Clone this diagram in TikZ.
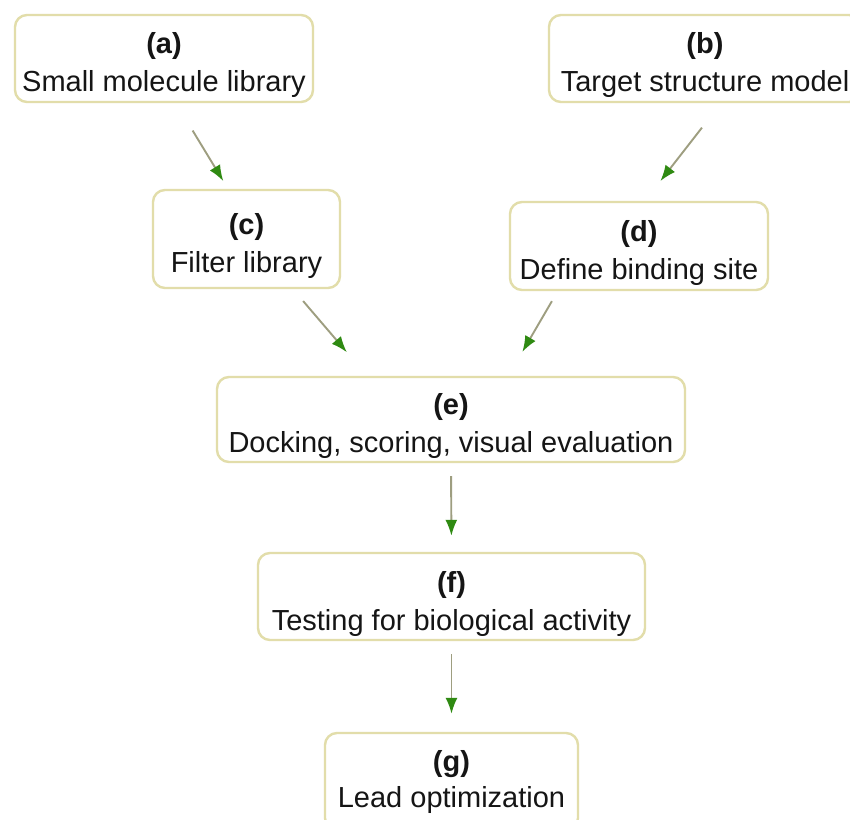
\documentclass[tikz,border=0pt]{standalone}
\usepackage{fontspec}
\setmainfont{Liberation Sans}
\usetikzlibrary{arrows.meta}
\definecolor{boxline}{HTML}{E2DDAA}
\definecolor{arrline}{HTML}{9E9E80}
\definecolor{arrtip}{HTML}{2F8A12}
\definecolor{txt}{HTML}{151515}
\newcommand{\lowstrut}{\rule{0pt}{35pt}}
\begin{document}
\begin{tikzpicture}[x=1pt,y=-1pt,
  stepbox/.style={draw=boxline, line width=2.4pt, rounded corners=12pt, fill=white,
    align=center, inner sep=0pt, font=\fontsize{29}{38}\selectfont, text=txt},
  flow/.style={draw=arrline, line width=1.9pt,
    -{Latex[length=16pt,width=12pt,color=arrtip]}}]
\useasboundingbox (0,0) rectangle (850,819);
\clip (0,0) rectangle (850,819);
\fill[white] (0,0) rectangle (850,819);

\node[stepbox, minimum width=298pt, minimum height=87pt] (a) at (164,58.5)
  {\lowstrut\textbf{(a)}\\Small molecule library};
\node[stepbox, minimum width=312pt, minimum height=87pt] (b) at (705,58.5)
  {\lowstrut\textbf{(b)}\\Target structure model};
\node[stepbox, minimum width=187pt, minimum height=98pt] (c) at (246.5,239)
  {\lowstrut\textbf{(c)}\\Filter library};
\node[stepbox, minimum width=258pt, minimum height=88pt] (d) at (639,246)
  {\lowstrut\textbf{(d)}\\Define binding site};
\node[stepbox, minimum width=468pt, minimum height=85pt] (e) at (451,419.5)
  {\lowstrut\textbf{(e)}\\Docking, scoring, visual evaluation};
\node[stepbox, minimum width=387pt, minimum height=87pt] (f) at (451.5,596.5)
  {\lowstrut\textbf{(f)}\\Testing for biological activity};
\node[stepbox, minimum width=253pt, minimum height=97pt] (g) at (451.5,781.5)
  {\textbf{(g)}\\[-2pt]Lead optimization};

\draw[flow, shorten <=32pt, shorten >=9pt] ([xshift=12pt]a.south) -- ([xshift=-18.5pt]c.north);
\draw[flow, shorten <=31pt, shorten >=25pt] ([xshift=16pt]b.south) -- ([xshift=6pt]d.north);
\draw[flow, shorten <=15.6pt, shorten >=31pt] ([xshift=46.5pt]c.south) -- ([xshift=-84pt]e.north);
\draw[flow, shorten <=11.5pt, shorten >=27.6pt] ([xshift=-81.3pt]d.south) -- ([xshift=57.4pt]e.north);
\draw[flow, shorten <=13pt, shorten >=16pt] (e.south) -- (f.north);
\draw[flow, shorten <=13pt, shorten >=18pt] (f.south) -- (g.north);
\end{tikzpicture}
\end{document}
